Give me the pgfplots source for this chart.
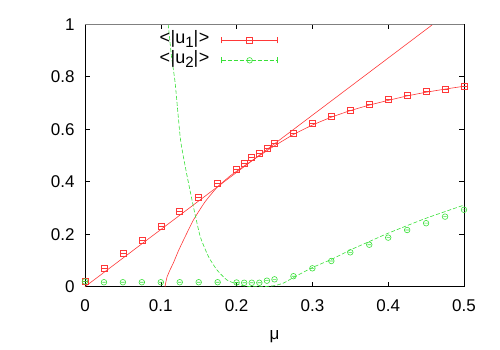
\documentclass[border=0pt]{standalone}
\usepackage{fontspec}
\setmainfont{Liberation Sans}
\usepackage{pgfplots}
\pgfplotsset{compat=1.18}
\definecolor{fitred}{HTML}{FF3838}
\definecolor{fitgreen}{HTML}{38E038}

% box with a bar, circle with a bar (gnuplot points with tiny error bars)
\pgfdeclareplotmark{boxminus}{%
  \pgfpathrectangle{\pgfpoint{-\pgfplotmarksize}{-\pgfplotmarksize}}{\pgfpoint{2\pgfplotmarksize}{2\pgfplotmarksize}}%
  \pgfpathmoveto{\pgfpoint{-\pgfplotmarksize}{0pt}}%
  \pgfpathlineto{\pgfpoint{\pgfplotmarksize}{0pt}}%
  \pgfusepathqstroke}
\pgfdeclareplotmark{ominus}{%
  \pgfpathcircle{\pgfpointorigin}{\pgfplotmarksize}%
  \pgfpathmoveto{\pgfpoint{-0.6\pgfplotmarksize}{0pt}}%
  \pgfpathlineto{\pgfpoint{0.6\pgfplotmarksize}{0pt}}%
  \pgfusepathqstroke}

\newcommand{\lab}[1]{<\kern0.5pt|u\raisebox{-0.4ex}{\fontsize{15}{15}\selectfont #1}|\kern0.5pt>}

\begin{document}
\begin{tikzpicture}
\useasboundingbox (-85pt,-63.3pt) rectangle (415pt,286.7pt);
\begin{axis}[
  at={(0pt,0pt)}, anchor=south west,
  scale only axis, width=379pt, height=262.4pt,
  xmin=0, xmax=0.5, ymin=0, ymax=1,
  xtick={0,0.1,0.2,0.3,0.4,0.5},
  ytick={0,0.2,0.4,0.6,0.8,1},
  tick align=inside, major tick length=5pt,
  tick style={black, line width=0.6pt},
  axis line style={line width=0.8pt},
  /pgf/number format/assume math mode=true,
  ticklabel style={font=\fontsize{17}{17}\selectfont},
  xticklabel style={yshift=-9pt},
  yticklabel style={xshift=-7pt},
  xlabel={μ},
  xlabel style={at={(axis description cs:0.5,-0.19)}, anchor=center, font=\fontsize{17}{17}\selectfont},
  legend plot pos=right,
  legend cell align=right,
  legend style={
    at={(axis description cs:0.509,0.977)}, anchor=north east,
    draw=none, fill=none, inner sep=0pt, outer sep=0pt,
    row sep=0pt, /tikz/column sep=12pt,
    nodes={inner sep=0pt, text height=13pt, text depth=7pt, font=\fontsize{18}{18}\selectfont},
  },
  legend image code/.code={
    \draw[#1, mark=none] (0pt,0pt) -- (56pt,0pt);
    \draw[#1, mark=none, solid] (0pt,-3pt) -- (0pt,3pt) (56pt,-3pt) -- (56pt,3pt);
    \draw[#1, only marks] plot coordinates {(28pt,0pt)};
  },
]
% straight line through the origin
\addplot[fitred, line width=0.6pt, forget plot] coordinates {(0,0) (0.459,1)};
% red fit
\addplot[fitred, line width=0.6pt, forget plot, smooth, tension=0.3] coordinates {
  (0.1055,0) (0.108,0.035) (0.112,0.063) (0.1165,0.090) (0.123,0.135) (0.130,0.178)
  (0.143,0.254) (0.158,0.322) (0.174,0.378) (0.191,0.421) (0.200,0.440)
  (0.210,0.460) (0.220,0.480) (0.230,0.499) (0.240,0.518) (0.250,0.537)
  (0.275,0.580) (0.300,0.616) (0.325,0.646) (0.350,0.671) (0.375,0.692)
  (0.400,0.710) (0.425,0.727) (0.450,0.741) (0.475,0.753) (0.500,0.764)
};
% green fit
\addplot[fitgreen, line width=0.6pt, dash pattern=on 4pt off 2pt, forget plot, smooth, tension=0.3] coordinates {
  (0.1098,1.0) (0.114,0.88) (0.119,0.775) (0.126,0.56) (0.134,0.432) (0.143,0.305)
  (0.152,0.191) (0.163,0.114) (0.174,0.064) (0.187,0.026) (0.200,0.010)
  (0.210,0.003) (0.220,0.000) (0.235,0.000) (0.250,0.004) (0.262,0.014)
  (0.275,0.035) (0.300,0.073) (0.325,0.104) (0.350,0.140) (0.375,0.172)
  (0.400,0.204) (0.450,0.261) (0.500,0.311)
};
% data, red
\addplot[fitred, line width=0.6pt, only marks, mark=boxminus, mark size=3pt] coordinates {
  (0,0.020) (0.025,0.070) (0.050,0.127) (0.075,0.177) (0.100,0.231) (0.125,0.286)
  (0.150,0.341) (0.175,0.394) (0.200,0.447) (0.210,0.470) (0.220,0.492) (0.230,0.510)
  (0.240,0.527) (0.250,0.545) (0.275,0.586) (0.300,0.623) (0.325,0.648) (0.350,0.674)
  (0.375,0.695) (0.400,0.713) (0.425,0.728) (0.450,0.743) (0.475,0.753) (0.500,0.765)
};
\addlegendentry{\lab{1}}
% data, green
\addplot[fitgreen, line width=0.6pt, only marks, dash pattern=on 4pt off 2pt,
  mark=ominus, mark size=2.8pt, mark options={solid}] coordinates {
  (0,0.020) (0.025,0.017) (0.050,0.017) (0.075,0.017) (0.100,0.017) (0.125,0.017)
  (0.150,0.017) (0.175,0.017) (0.200,0.016) (0.210,0.015) (0.220,0.015) (0.230,0.015)
  (0.240,0.023) (0.250,0.028) (0.275,0.040) (0.300,0.070) (0.325,0.098) (0.350,0.131)
  (0.375,0.160) (0.400,0.187) (0.425,0.216) (0.450,0.242) (0.475,0.267) (0.500,0.293)
};
\addlegendentry{\lab{2}}
\draw[gray, line width=1.2pt] (rel axis cs:0,1) -- (rel axis cs:1,1);
\end{axis}
\end{tikzpicture}
\end{document}
